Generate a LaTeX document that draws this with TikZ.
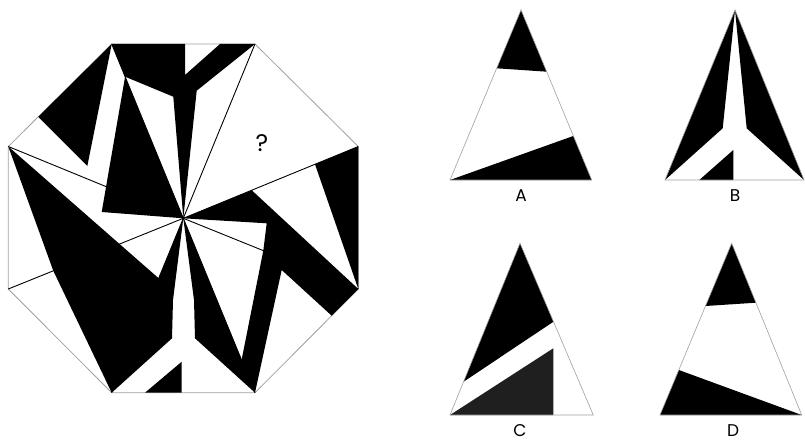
\documentclass[tikz,border=0pt]{standalone}
\usepackage{fontspec}
\setmainfont{Poppins}
\usepackage{tikz}
\usetikzlibrary{calc}

\begin{document}
\begin{tikzpicture}[x=1pt,y=-1pt,
  rim/.style={draw=gray!75,line width=0.8pt},
  spoke/.style={draw=black,line width=0.9pt},
  ink/.style={fill=black},
  lab/.style={font=\fontsize{17}{17}\selectfont}]
\useasboundingbox (0,0) rectangle (805,444);

% Octagon corners and centre
\coordinate (C)  at (183.3,218.3);
\coordinate (TL) at (111.7,44);
\coordinate (TR) at (255,44);
\coordinate (RU) at (358.3,146.5);
\coordinate (RD) at (358.3,289);
\coordinate (BR) at (255,392.7);
\coordinate (BL) at (111.7,392.7);
\coordinate (LD) at (8.3,289);
\coordinate (LU) at (8.3,146.5);

% Outline
\draw[rim] (TL) -- (TR) -- (RU) -- (RD) -- (BR) -- (BL) -- (LD) -- (LU) -- cycle;

% Top piece: black fork
\fill[ink] (TL) -- (185,44) -- (185,75) -- (220,44) -- (TR) -- (196.7,90.7)
  -- (C) -- (173.3,96.7) -- (125.1,76.7) -- cycle;

% Upper left pieces
\fill[ink] (38.3,116.8) -- (TL) -- (87.3,166) -- cycle;
\fill[ink] (125.1,76.7) -- (101.7,212) -- (C) -- cycle;

% Big left piece with notch
\fill[ink] (LU) -- (158.7,278.3) -- (C) -- (173,300) -- (172,338.3) -- (BL)
  -- (53.3,270.8) -- cycle;

% Bottom small triangle
\fill[ink] (145,392.7) -- (181.7,361.7) -- (181.7,392.7) -- cycle;

% Bottom right wedge
\fill[ink] (C) -- (194,300) -- (195,338.3) -- (BR) -- (241.6,360) -- cycle;

% Right bands
\fill[ink] (C) -- (251.7,190.2) -- (RD) -- (331.7,315.7) -- (281.7,270) -- (BR)
  -- (241.6,360) -- (263.3,250.6) -- (266.7,223.3) -- cycle;
\fill[ink] (315,164.3) -- (RU) -- (RD) -- cycle;

% Spokes
\foreach \p in {TL,TR,RU,RD,BR,BL,LD,LU}
  \draw[spoke] (C) -- (\p);

\node[font=\fontsize{24}{24}\selectfont] (qmark) at (262,143) {?};

% Option A
\coordinate (Aa) at (521,10);
\coordinate (Al) at (450,180);
\coordinate (Ar) at (591.7,180);
\fill[ink] (Aa) -- (496.7,68.3) -- (546.7,71.7) -- cycle;
\fill[ink] (Al) -- (573.3,136) -- (Ar) -- cycle;
\draw[rim,line width=0.6pt] (Aa) -- (Al) -- (Ar) -- cycle;
\node[lab] (labA) at (521,196) {A};

% Option B
\coordinate (Ba) at (735,10);
\coordinate (Bl) at (665,180);
\coordinate (Br) at (804,180);
\fill[ink] (Ba) -- (722.7,128.3) -- (Bl) -- cycle;
\fill[ink] (Ba) -- (746.7,128.3) -- (Br) -- cycle;
\fill[ink] (699.3,180) -- (733.3,150) -- (733.3,180) -- cycle;
\draw[rim,line width=0.6pt] (Ba) -- (Bl) -- (Br) -- cycle;
\node[lab] (labB) at (735,196) {B};

% Option C
\coordinate (Ca) at (520,243.3);
\coordinate (Cl) at (450,415);
\coordinate (Cr) at (593.3,415);
\fill[ink] (Ca) -- (553.5,321.7) -- (463.6,381.7) -- cycle;
\fill[black!88] (Cl) -- (553.3,348.3) -- (553.3,415) -- cycle;
\draw[rim,line width=0.6pt] (Ca) -- (Cl) -- (Cr) -- cycle;
\node[lab] (labC) at (520,431) {C};

% Option D
\coordinate (Da) at (731.7,243.3);
\coordinate (Dl) at (660,415);
\coordinate (Dr) at (801.7,415);
\fill[ink] (Da) -- (705.5,306) -- (755.9,302.7) -- cycle;
\fill[ink] (678.8,370) -- (Dl) -- (Dr) -- cycle;
\draw[rim,line width=0.6pt] (Da) -- (Dl) -- (Dr) -- cycle;
\node[lab] (labD) at (733,431) {D};
\end{tikzpicture}
\end{document}
